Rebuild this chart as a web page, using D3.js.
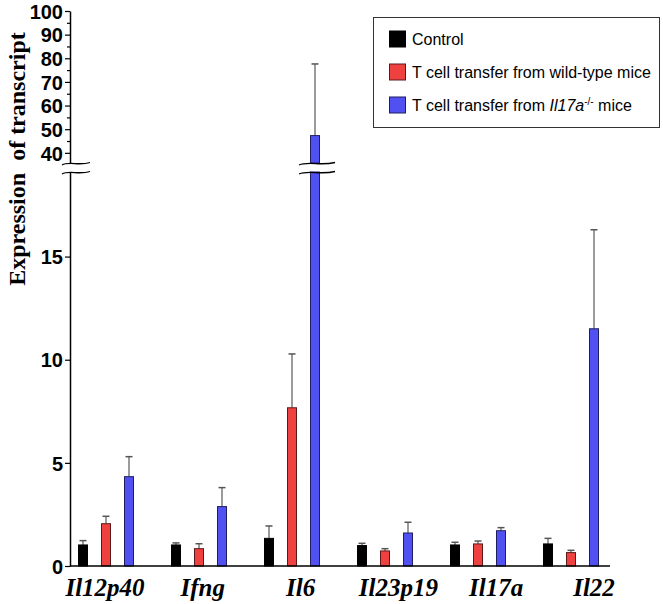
<!DOCTYPE html>
<html lang="en">
<head>
  <meta charset="UTF-8">
  <title>Expression of transcript</title>
  <script src="https://d3js.org/d3.v7.min.js"></script>
  <style>
    body {
      margin: 0;
      background: white;
    }
    .tickLabel text {
      font-family: 'Liberation Sans', Arial, sans-serif;
      font-weight: bold;
      font-size: 20px;
      fill: black;
    }
    .geneLabel {
      font-family: 'Liberation Serif', 'Times New Roman', serif;
      font-weight: bold;
      font-style: italic;
      font-size: 25px;
    }
    .yTitle {
      font-family: 'Liberation Serif', 'Times New Roman', serif;
      font-weight: bold;
      font-size: 24px;
      white-space: pre;
    }
    .legendText {
      font-family: 'Liberation Sans', Arial, sans-serif;
      font-size: 16px;
    }
  </style>
</head>
<body>

<svg width="663" height="604"></svg>

<script>
const width = 663, height = 604;

// data
const genes = ["Il12p40", "Ifng", "Il6", "Il23p19", "Il17a", "Il22"];
const seriesNames = ["Control", "T cell transfer from wild-type mice", "T cell transfer from Il17a-/- mice"];
const seriesColors = ["#000000", "#f04141", "#5151f2"];
const seriesStroke = ["#000000", "#5a1a1a", "#1e1e60"];

const controlMean = [1.02, 1.02, 1.34, 0.99, 1.02, 1.07];
const controlTop  = [1.23, 1.12, 1.94, 1.10, 1.15, 1.34];
const wildMean    = [2.05, 0.84, 7.67, 0.73, 1.07, 0.65];
const wildTop     = [2.41, 1.08, 10.28, 0.84, 1.21, 0.76];
const koMean      = [4.33, 2.88, 47.3, 1.60, 1.71, 11.5];
const koTop       = [5.30, 3.80, 77.6, 2.12, 1.86, 16.3];

const lowTicks = [0, 5, 10, 15];
const highTicks = [40, 50, 60, 70, 80, 90, 100];
const highMinor = [45, 55, 65, 75, 85, 95];

const means = [controlMean, wildMean, koMean];
const tops = [controlTop, wildTop, koTop];

const svg = d3.select("svg");

// broken y axis: two linear segments
const lowMax = 19.1, highMin = 35.7;
const yLow = d3.scaleLinear().domain([0, lowMax]).range([566, 172]);
const yHigh = d3.scaleLinear().domain([highMin, 100]).range([163, 11]);
const axisX = 70, axisEnd = 610;

const x = d3.scalePoint().domain(genes).range([106, 571]);
const xOff = d3.scalePoint().domain(d3.range(3)).range([-23, 23]);
const xLabel = d3.scalePoint().domain(genes).range([105, 594]);
const barW = 9;

const bars = [];
genes.forEach((g, gi) => {
  means.forEach((m, si) => {
    bars.push({ gene: g, s: si, value: m[gi], top: tops[si][gi] });
  });
});

// bars
const barG = svg.append("g");
bars.forEach(d => {
  const cx = x(d.gene) + xOff(d.s);
  const pieces = [];
  if (d.value <= lowMax) {
    pieces.push([yLow(d.value), yLow(0)]);
  } else {
    pieces.push([yLow(lowMax), yLow(0)]);
    pieces.push([yHigh(d.value), yHigh(highMin)]);
  }
  // error bar (upper only)
  const eTop = d.top <= lowMax ? yLow(d.top) : yHigh(d.top);
  const eBottom = d.value <= lowMax ? yLow(d.value) : yHigh(d.value);
  barG.append("line")
    .attr("x1", cx).attr("x2", cx)
    .attr("y1", eTop).attr("y2", eBottom)
    .attr("stroke", "#7a7a7a").attr("stroke-width", 1.5);
  barG.append("line")
    .attr("x1", cx - 3.5).attr("x2", cx + 3.5)
    .attr("y1", eTop).attr("y2", eTop)
    .attr("stroke", "#555").attr("stroke-width", 1.5);

  pieces.forEach(([y0, y1]) => {
    barG.append("rect")
      .attr("x", cx - barW / 2)
      .attr("y", y0)
      .attr("width", barW)
      .attr("height", y1 - y0)
      .attr("fill", seriesColors[d.s])
      .attr("stroke", seriesStroke[d.s])
      .attr("stroke-width", 1);
  });

  if (d.value > lowMax) {
    drawBreak(cx - 16, 36);
  }
});

// axes
svg.append("g")
  .attr("class", "tickLabel")
  .attr("transform", `translate(${axisX},0)`)
  .call(d3.axisLeft(yLow).tickValues(lowTicks).tickSize(5).tickSizeOuter(0).tickPadding(2));

svg.append("g")
  .attr("class", "tickLabel")
  .attr("transform", `translate(${axisX},0)`)
  .call(d3.axisLeft(yHigh).tickValues(highTicks).tickSize(5).tickSizeOuter(0).tickPadding(2));

svg.append("g")
  .attr("transform", `translate(${axisX},0)`)
  .call(d3.axisLeft(yHigh).tickValues(highMinor).tickSize(3).tickFormat(""))
  .call(g => g.select(".domain").remove());

svg.selectAll(".domain").attr("stroke-width", 1.5);
svg.selectAll(".tick line").attr("stroke-width", 1.2);
svg.selectAll(".tickLabel .tick text").attr("dy", "0.36em");

// x axis line
svg.append("line")
  .attr("x1", axisX).attr("x2", axisEnd)
  .attr("y1", yLow(0)).attr("y2", yLow(0))
  .attr("stroke", "black").attr("stroke-width", 1.5);

drawBreak(axisX - 8, 28);

function drawBreak(x0, w) {
  [yHigh(highMin) + 0.5, yLow(lowMax) + 0.5].forEach(yy => {
    svg.append("path")
      .attr("d", `M${x0},${yy + 1.5} C${x0 + w * 0.25},${yy - 2.5} ${x0 + w * 0.6},${yy + 2.5} ${x0 + w},${yy - 1}`)
      .attr("fill", "none")
      .attr("stroke", "black")
      .attr("stroke-width", 1.3);
  });
}

// gene labels
svg.selectAll(".geneLabel")
  .data(genes)
  .enter().append("text")
  .attr("class", "geneLabel")
  .attr("x", d => xLabel(d))
  .attr("y", 596)
  .attr("text-anchor", "middle")
  .text(d => d);

// y title
svg.append("text")
  .attr("class", "yTitle")
  .attr("transform", `translate(25,159) rotate(-90)`)
  .attr("text-anchor", "middle")
  .text("Expression  of transcript");

// legend
const legend = svg.append("g");
legend.append("rect")
  .attr("x", 373.5).attr("y", 17.5)
  .attr("width", 286).attr("height", 110)
  .attr("fill", "white")
  .attr("stroke", "#333").attr("stroke-width", 1);

const legendY = d3.scalePoint().domain(d3.range(3)).range([39, 105]);
seriesNames.forEach((name, i) => {
  legend.append("rect")
    .attr("x", 389.5).attr("y", legendY(i) - 8)
    .attr("width", 16).attr("height", 16)
    .attr("fill", seriesColors[i])
    .attr("stroke", seriesStroke[i]);
  const t = legend.append("text")
    .attr("class", "legendText")
    .attr("x", 412)
    .attr("y", legendY(i) + 6);
  if (i < 2) {
    t.text(name);
  } else {
    t.append("tspan").text("T cell transfer from ");
    t.append("tspan").style("font-style", "italic").text("Il17a");
    t.append("tspan").attr("font-size", "10px").attr("dy", "-6").text("-/-");
    t.append("tspan").attr("dy", "6").text(" mice");
  }
});
</script>

</body>
</html>
